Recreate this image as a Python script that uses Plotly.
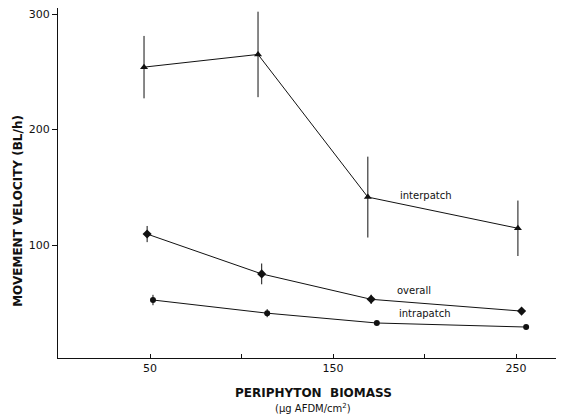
import plotly.graph_objects as go

# Data
inter_x = [46.7, 109, 169, 251]
inter_y = [254, 265, 141.5, 114.5]
inter_err = [27, 37, 35, 24]

overall_x = [48.4, 111, 170.8, 253]
overall_y = [109.5, 75, 53, 42.8]
overall_err = [7, 9, 4, 1.5]

intra_x = [51.6, 114, 173.9, 255.5]
intra_y = [52.4, 41, 32.5, 29]
intra_err = [4.5, 3.5, 1.5, 1]

labels = ["interpatch", "overall", "intrapatch"]
label_x = [201, 194, 200]
label_y = [142.5, 61, 41]

x_tickvals = [50, 100, 150, 200, 250]
x_ticktext = ["50", "", "150", "", "250"]
y_tickvals = [100, 200, 300]

FONT = "DejaVu Sans"
ink = "#111111"

fig = go.Figure()


def add_series(xs, ys, errs, symbol, size):
    fig.add_trace(go.Scatter(
        x=xs, y=ys, mode="lines+markers",
        line=dict(color=ink, width=1),
        marker=dict(symbol=symbol, size=size, color=ink),
        error_y=dict(type="data", array=errs, visible=True,
                     color=ink, thickness=1, width=0),
        showlegend=False, cliponaxis=False,
    ))


add_series(inter_x, inter_y, inter_err, "triangle-up", 7)
add_series(overall_x, overall_y, overall_err, "diamond", 7)
add_series(intra_x, intra_y, intra_err, "circle", 6)

for t, lx, ly in zip(labels, label_x, label_y):
    fig.add_annotation(x=lx, y=ly, text=t, showarrow=False,
                       font=dict(family=FONT, size=10, color=ink))

fig.add_annotation(xref="paper", yref="paper", x=0.508, y=-0.1,
                   text="<b>PERIPHYTON  BIOMASS</b>", showarrow=False,
                   font=dict(family=FONT, size=12, color=ink), yanchor="middle")
fig.add_annotation(xref="paper", yref="paper", x=0.508, y=-0.143,
                   text="(μg AFDM/cm<sup>2</sup>)", showarrow=False,
                   font=dict(family=FONT, size=10, color=ink), yanchor="middle")
fig.add_annotation(xref="paper", yref="paper", x=-0.08, y=0.42,
                   text="<b>MOVEMENT VELOCITY (BL/h)</b>", showarrow=False,
                   textangle=-90, xanchor="center", yanchor="middle",
                   font=dict(family=FONT, size=12, color=ink))

fig.update_layout(
    width=556, height=408,
    margin=dict(l=50, r=4, t=0, b=58),
    paper_bgcolor="white", plot_bgcolor="white",
    font=dict(family=FONT, color=ink, size=11),
    xaxis=dict(range=[-0.3, 274], tickvals=x_tickvals, ticktext=x_ticktext,
               ticks="inside", ticklen=4, tickcolor=ink, showgrid=False,
               zeroline=False, showline=True, linecolor=ink, linewidth=1,
               automargin=False,
               tickfont=dict(family=FONT, size=11, color=ink)),
    yaxis=dict(range=[2.2, 305.2], tickvals=y_tickvals,
               ticks="outside", ticklen=5, tickcolor=ink, showgrid=False,
               zeroline=False, showline=True, linecolor=ink, linewidth=1,
               automargin=False, ticklabeloverflow="allow",
               tickfont=dict(family=FONT, size=11, color=ink)),
)

fig.write_html("out.html")
